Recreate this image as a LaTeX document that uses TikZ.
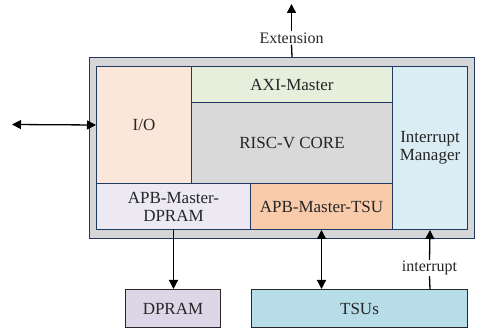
\documentclass[tikz,border=0pt]{standalone}
\usepackage{fontspec}
\setmainfont{Liberation Serif}
\usetikzlibrary{arrows.meta}
\definecolor{navy}{HTML}{203864}
\definecolor{outerfill}{HTML}{D6D6D6}
\definecolor{iofill}{HTML}{FBE7DA}
\definecolor{axifill}{HTML}{E6EFDC}
\definecolor{corefill}{HTML}{D9D9D9}
\definecolor{imfill}{HTML}{DAEDF4}
\definecolor{apbdfill}{HTML}{ECE9F2}
\definecolor{apbtfill}{HTML}{F9CBAA}
\definecolor{dpramfill}{HTML}{DDD6E6}
\definecolor{tsufill}{HTML}{B7DDE8}
\tikzset{
  blk/.style={draw=navy, line width=1pt, anchor=north west, inner sep=0pt, align=center,
    font=\fontsize{17}{19}\selectfont, text=black!85},
  ext/.style={draw=black!85, line width=1pt, anchor=north west, inner sep=0pt, align=center,
    font=\fontsize{17}{19}\selectfont, text=black!85},
  lbl/.style={inner sep=1pt, font=\fontsize{16}{18}\selectfont, text=black!85},
  arr/.style={line width=1.3pt, draw=black, -{Triangle[length=9pt,width=9pt]}},
  darr/.style={line width=1.3pt, draw=black, {Triangle[length=9pt,width=9pt]}-{Triangle[length=9pt,width=9pt]}},
  ln/.style={line width=1.3pt, draw=black}
}
\begin{document}
\begin{tikzpicture}[x=1pt,y=-1pt]
\useasboundingbox (0,0) rectangle (479,328);
% outer and inner frames
\node[blk, fill=outerfill, line width=1.3pt, minimum width=385pt, minimum height=181pt] (outer) at (89,57) {};
\node[blk, minimum width=371pt, minimum height=163pt] (inner) at (96,66) {};
% components
\node[blk, fill=iofill, minimum width=95pt, minimum height=117pt] (io) at (96,66) {I/O};
\node[blk, fill=axifill, minimum width=201pt, minimum height=36pt] (axi) at (191,66) {AXI-Master};
\node[blk, fill=corefill, minimum width=201pt, minimum height=81pt] (core) at (191,102) {RISC-V CORE};
\node[blk, fill=imfill, minimum width=75pt, minimum height=163pt] (im) at (392,66) {Interrupt\\[-1pt]Manager};
\node[blk, fill=apbdfill, minimum width=154pt, minimum height=46pt] (apbd) at (96,183) {APB-Master-\\[-1pt]DPRAM};
\node[blk, fill=apbtfill, minimum width=142pt, minimum height=46pt] (apbt) at (250,183) {APB-Master-TSU};
% external blocks
\node[ext, fill=dpramfill, minimum width=95pt, minimum height=38pt] (dpram) at (125,289) {DPRAM};
\node[ext, fill=tsufill, minimum width=216pt, minimum height=38pt] (tsus) at (251,289) {TSUs};
% labels
\node[lbl] (extl) at (291.5,38) {Extension};
\node[lbl] (intl) at (429.5,268) {interrupt};
\coordinate (exttip) at (291.5,4);
\coordinate (iotip) at (12,124.5);
% connectors
\draw[ln] (outer.north -| axi.north) -- (extl.south);
\draw[arr] (extl.north) -- (exttip);
\draw[darr] (iotip) -- (io.west);
\draw[arr] (apbd.south) -- (dpram.north -| apbd.south);
\draw[darr] (apbt.south) -- (tsus.north -| apbt.south);
\draw[ln] (tsus.north -| im.south) -- (intl.south);
\draw[arr] (intl.north) -- (im.south);
\end{tikzpicture}
\end{document}
